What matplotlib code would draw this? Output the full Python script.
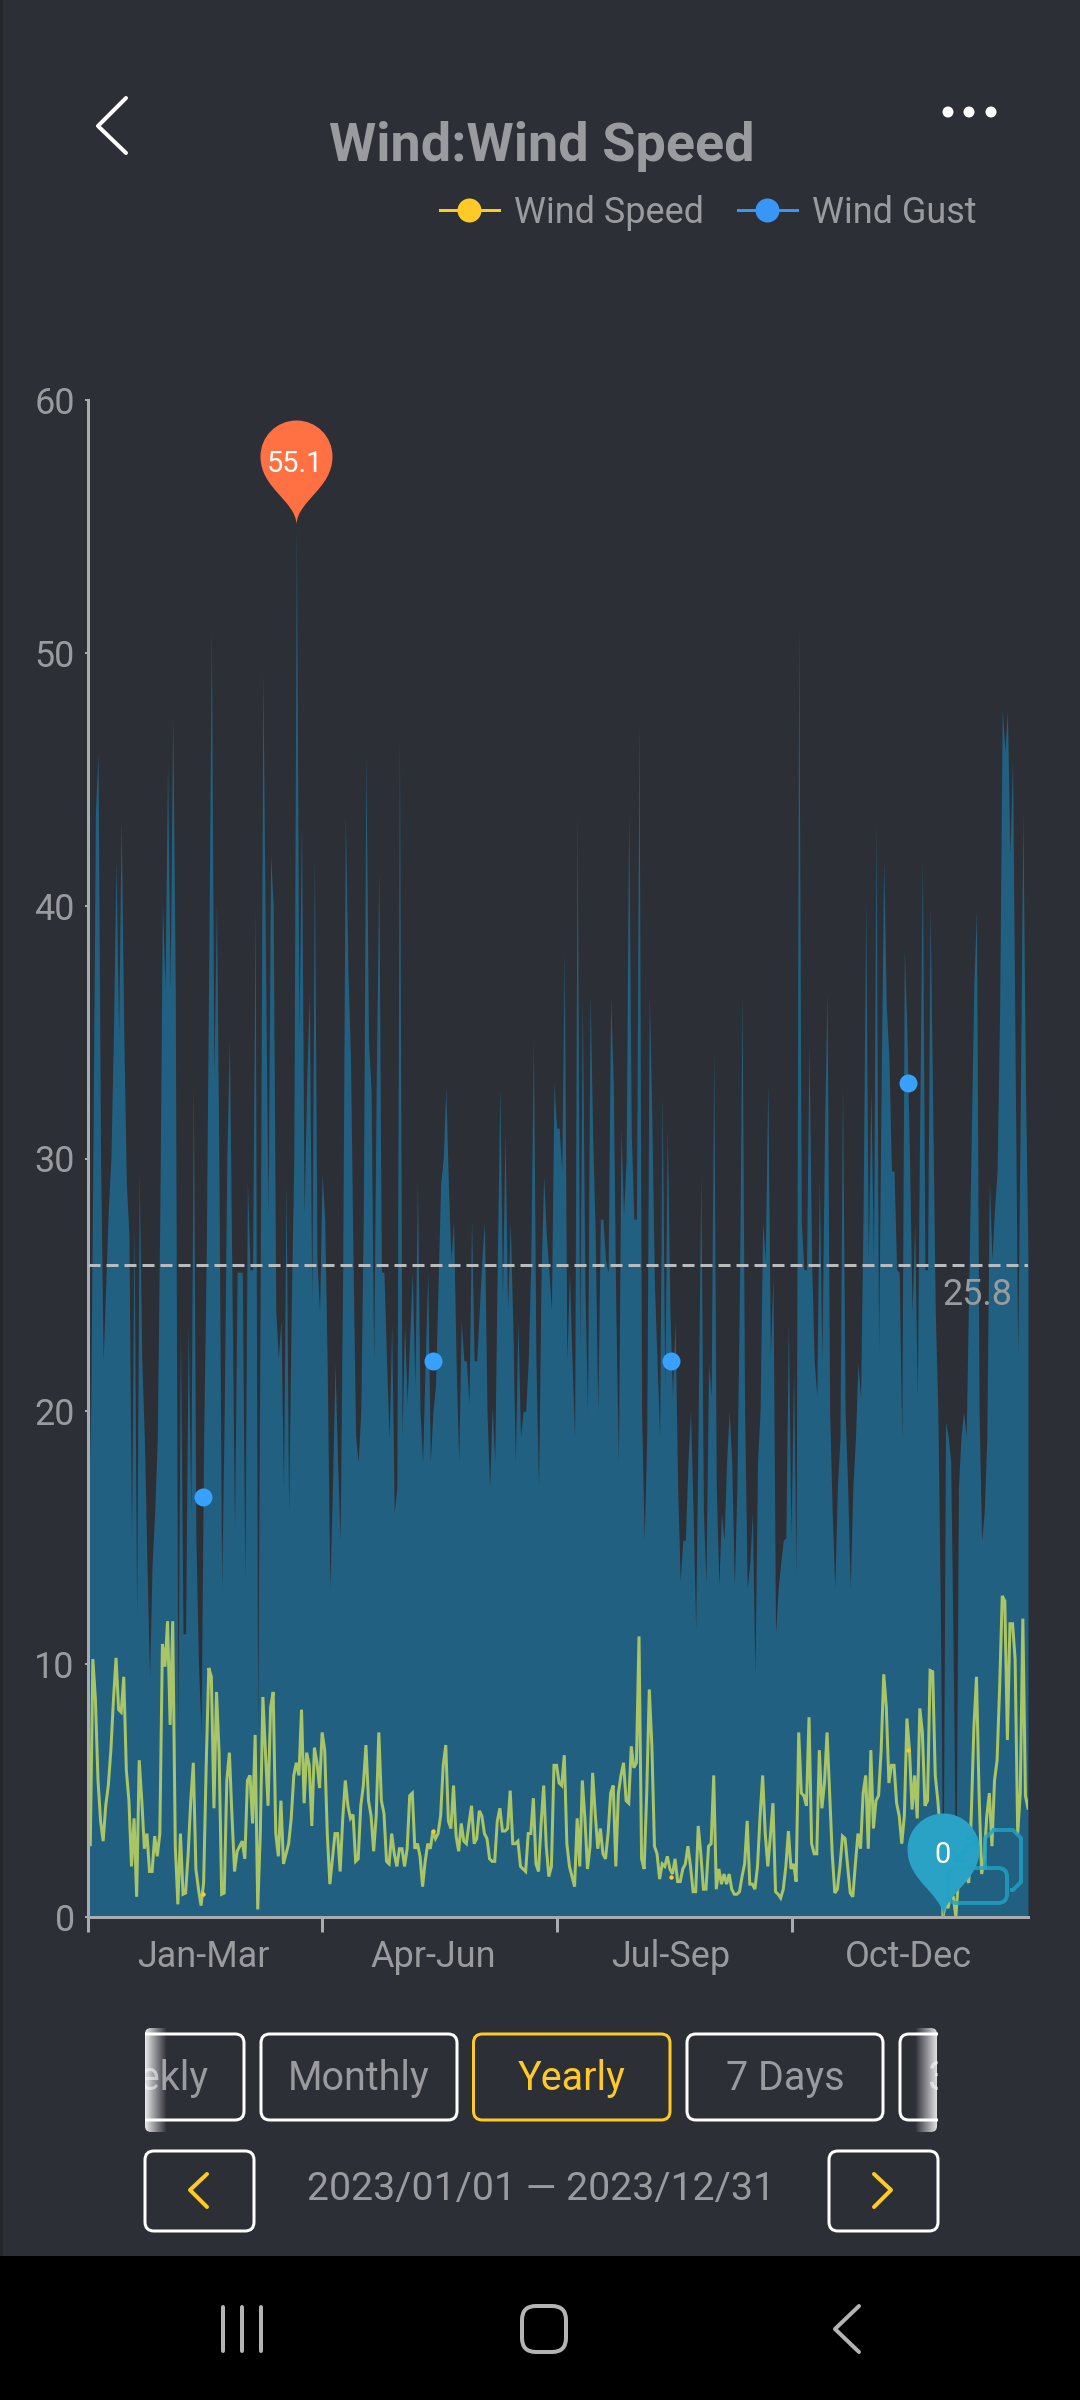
import numpy as np
import matplotlib
matplotlib.use("Agg")
import matplotlib.pyplot as plt
from matplotlib.lines import Line2D
from matplotlib.patches import FancyBboxPatch, Circle, Rectangle
from matplotlib.path import Path

plt.rcParams['font.family'] = ['Roboto', 'DejaVu Sans']
plt.rcParams['lines.scale_dashes'] = False

# ---------- data ----------
wind_gust = [
    29.2,18,30,43.7,46,30,22,25,28,30,
    35,41.8,34.9,43.4,35,29,27,15,27.5,11.9,
    29.4,22,18.9,14,9.5,14,16,18.9,27.9,40.2,
    36.7,45.6,36.7,47.6,36.7,7.3,23.4,11.2,11.2,23.4,
    16,33,15,10,7.3,18.9,26,38,50.9,33.2,
    40.2,28.7,13,20,30,34.7,25,15.3,25.5,25.5,
    25.5,13.3,29.1,25.6,25.6,40,7.3,25.8,49.3,38,
    27.8,42,40,24,22.1,23.6,17,29.1,16,24,
    30,55.1,34.9,43.4,27.8,33,36.5,24.3,42,26,
    23.9,29.4,27.6,21.5,13,17,21.9,18,14.9,26,
    43.6,37.5,34,26,19,18,20,28,46,34.6,
    32.7,22,33,41.4,25.5,25.5,22,18.9,23.5,16,
    17,46.8,19,23.5,20.3,23,25.5,21,29.1,20,
    18,22,25.5,18,20,21,25,29,30,32.8,
    29,26,27.5,22,18,23.6,22,22,20.3,27.6,
    22,22,24,26,27.5,20,17,20.2,18,26,
    32.8,24.5,31,24,27.5,23.5,18,23.6,19,20,
    20,22,26,34.7,22,17,25.5,29.3,27,25.6,
    24,33,31.2,31.2,29.5,38.2,22,25.5,22,19,
    43.7,22.5,36.3,25,20,36.5,31,27,20,27.6,
    27.6,26,25.5,36.4,33,24,18,31.2,27.8,30,
    43.7,31,27.6,27.6,47.4,20,14.9,19,36.5,31.5,
    25,22,19,32.6,21,31.2,24,20.6,23.6,17,
    13.3,14.9,14.9,18,20,16,11.4,20,29.4,16,
    13.2,21.9,20.6,34.3,17,13.1,16,14.9,18,20,
    18,13.1,17,25,36.5,20,13,14,16,9.6,
    18,20,27.5,26,33,22.2,25.4,11.2,13,14,
    14.9,15,23.5,15,21.7,13.5,51.2,27.5,25.6,25.6,
    34.5,26,22,20.6,29.2,22,31,36.6,20,16,
    13,17,18.9,33,20,17,13,17,18.9,21.9,
    20.5,28,40.2,26,32.7,26,43.3,22.4,33,41.8,
    36,34,29.5,29.5,25.6,25.5,18.9,38.3,35,30,
    23.9,27.5,20.6,32,41.8,25.6,25.6,40,32,24,
    20,12,0,19.6,19,18,10,0.5,17,19,
    20,19,25,31,37,39.8,20,14.9,16,18.9,
    29.2,26,28,29.5,36,47.8,46.1,47.7,42,45.8,
    34,22.2,32,43.7,33,26,
]
wind_speed = [
    5.7,2.8,10.2,8.6,5.4,3.8,3.0,4.4,5.2,6.6,
    8.6,10.25,8.2,8.1,9.5,5.8,4.6,2.0,3.9,0.8,
    6.2,4.6,2.7,3.3,1.8,1.8,3.2,2.4,3.3,10.8,
    9.9,11.7,7.6,11.7,2.8,0.5,3.3,0.9,0.95,2.5,
    4.6,6.1,1.9,1.1,0.45,1.35,6.0,9.85,9.5,4.3,
    8.9,6.5,0.9,0.95,5.4,6.5,4.0,1.8,2.6,2.8,
    3.0,2.3,5.4,5.6,3.7,7.2,0.3,3.3,8.7,6.5,
    4.4,8.3,8.9,3.3,2.4,4.6,2.1,2.5,2.9,3.9,
    5.6,6.1,5.6,8.2,4.5,6.5,6.0,3.6,6.7,6.1,
    5.1,7.3,6.6,3.3,1.3,2.3,3.3,3.3,1.8,3.9,
    5.4,4.4,3.9,4.05,2.2,2.3,4.4,5.2,6.8,4.6,
    4.0,2.6,4.0,7.3,4.6,4.1,2.2,2.1,3.3,2.5,
    2.0,2.7,2.7,2.0,2.7,4.8,4.9,2.7,2.9,2.4,
    1.2,2.2,2.9,2.7,3.4,3.1,3.3,4.0,6.0,6.8,
    3.8,3.5,5.2,3.2,2.6,3.7,3.0,2.9,3.7,4.4,
    2.9,3.1,4.2,4.0,3.3,3.1,2.3,2.2,2.2,3.8,
    4.3,3.4,3.4,3.5,5.0,2.9,2.9,3.0,2.0,1.9,
    1.8,3.3,3.3,4.7,2.1,1.8,3.7,5.2,2.8,1.6,
    2.0,6.0,6.0,5.3,5.2,6.4,2.9,2.0,1.6,1.2,
    3.9,2.0,5.4,3.9,1.9,2.8,5.7,4.1,2.7,3.5,
    2.5,2.3,3.3,4.9,5.2,2.0,4.9,5.6,6.1,4.6,
    4.5,6.75,5.9,6.1,11.1,2.3,1.9,4.9,9.0,6.75,
    2.8,2.5,1.5,2.1,2.0,2.4,1.9,1.7,2.3,1.4,
    1.4,1.9,2.1,2.8,2.0,1.0,1.0,3.6,2.5,1.1,
    1.1,2.8,2.9,5.6,1.1,1.9,1.3,1.7,1.3,1.7,
    1.1,0.9,0.9,1.0,1.6,2.1,3.8,1.3,1.3,1.1,
    2.0,4.0,5.6,3.3,2.0,3.2,4.5,1.0,0.9,0.75,
    1.1,2.0,3.4,1.9,2.1,1.4,7.3,4.9,4.8,4.4,
    7.9,2.9,2.5,2.5,6.6,4.3,5.3,7.3,4.9,2.5,
    0.95,1.1,2.0,3.2,3.1,2.0,0.95,0.8,2.1,3.3,
    2.7,4.9,5.6,2.7,6.6,3.5,4.6,4.8,6.6,9.6,
    8.3,5.3,6.0,6.0,4.5,4.0,2.9,4.0,7.85,6.6,
    4.25,5.6,3.9,8.25,7.3,4.4,4.6,9.75,9.7,5.6,
    4.6,3.3,0,0.55,0.35,0.95,0.8,0,1.5,3.0,
    2.0,1.6,1.35,4.1,7.5,9.5,4.9,1.7,2.3,4.0,
    4.9,2.8,5.4,6.2,9.1,12.7,12.5,7.0,11.6,11.6,
    10.2,3.3,4.9,11.8,4.8,4.3,
]
quarter_labels = ['Jan-Mar', 'Apr-Jun', 'Jul-Sep', 'Oct-Dec']
quarter_centers = [44.8, 134, 226.4, 318.5]
quarter_edges = [0, 91, 182, 273.5]
gust_points = [16.6, 22, 22, 33]
speed_points = [0.9, 3.4, 1.6, 6.6]
y_ticks = [0, 10, 20, 30, 40, 50, 60]
average_value = 25.8
max_day, max_value = 81, 55.1
min_day, min_value = 332, 0
range_buttons = ['Weekly', 'Monthly', 'Yearly', '7 Days', '30 Days']
series_names = ['Wind Speed', 'Wind Gust']

# ---------- colours ----------
BG = '#2c2f36'
FILL = '#216080'
LINE = '#a9c566'
TXT = '#9a9b9f'
AX = '#a9abad'
YEL = '#ffca28'
BLU = '#38a0ff'
W, H = 1080, 2400

fig = plt.figure(figsize=(W/100, H/100), dpi=100, facecolor=BG)
PX = 72/100  # points per pixel

# ---------- chart ----------
L, R, T, B = 87.7, 1028, 400, 1917
ax = fig.add_axes([L/W, 1-B/H, (R-L)/W, (B-T)/H], facecolor='none')
days = np.arange(len(wind_gust))
ax.fill_between(days, wind_gust, 0, color=FILL, lw=0, zorder=1)
ax.plot(np.arange(len(wind_speed)), wind_speed, color=LINE, lw=3*PX, zorder=2,
        solid_joinstyle='miter')
ax.plot(quarter_centers, speed_points, 'o', color=YEL, ms=3*PX, zorder=2, clip_on=False)
ax.plot(quarter_centers, gust_points, 'o', color=BLU, ms=18*PX, mew=0, zorder=3)
ax.axhline(average_value, color='#b9bbbd', lw=3*PX, linestyle=(0, (12*PX, 6*PX)), zorder=3)
ax.annotate(f'{average_value}', (365, average_value), xytext=(-16*PX, -30*PX),
            textcoords='offset points', ha='right', va='center', color=TXT, fontsize=36*PX)
ax.set_xlim(0, 365)
ax.set_ylim(0, 60)
for s in ('top', 'right'):
    ax.spines[s].set_visible(False)
for s in ('left', 'bottom'):
    ax.spines[s].set_color(AX)
    ax.spines[s].set_linewidth(3*PX)
ax.set_yticks(y_ticks)
ax.tick_params(axis='y', length=3*PX, width=2*PX, color=AX, labelcolor=TXT,
               labelsize=36*PX, pad=10*PX)
ax.set_xticks(quarter_edges)
ax.set_xticklabels([])
ax.tick_params(axis='x', which='major', length=15*PX, width=3*PX, color=AX)
ax.set_xticks(quarter_centers, minor=True)
ax.set_xticklabels(quarter_labels, minor=True)
ax.tick_params(axis='x', which='minor', length=0, labelcolor=TXT, labelsize=36*PX, pad=22*PX)

# map pins (tip sits on the value)
pin_verts = [(0, 0), (-1, 24), (-36, 36), (-36, 68),
             (-36, 88), (-20, 104), (0, 104),
             (20, 104), (36, 88), (36, 68),
             (36, 36), (1, 24), (0, 0), (0, 0)]
pin_codes = [Path.MOVETO] + [Path.CURVE4]*12 + [Path.CLOSEPOLY]
pin = Path(pin_verts, pin_codes)
pin_ms = 2*104*PX
ax.plot([max_day], [max_value], marker=pin, ms=pin_ms, color='#ff7043', mew=0,
        zorder=5, clip_on=False, ls='none')
ax.plot([min_day], [min_value], marker=pin, ms=pin_ms, color='#2aa2c6', mew=0,
        zorder=5, clip_on=False, ls='none')
ax.annotate(f'{max_value}', (max_day, max_value), xytext=(-1*PX, 60*PX),
            textcoords='offset points', ha='center', va='center', color='white',
            fontsize=29*PX, zorder=6)
ax.annotate(f'{min_value}', (min_day, min_value), xytext=(0, 62*PX),
            textcoords='offset points', ha='center', va='center', color='white',
            fontsize=29*PX, zorder=6)

# ---------- app chrome, in pixel coordinates ----------
ui = fig.add_axes([0, 0, 1, 1], facecolor='none', zorder=5)
ui.set_xlim(0, W)
ui.set_ylim(H, 0)
ui.axis('off')

def stroke(xs, ys, c='white', lw=4, **kw):
    ui.plot(xs, ys, color=c, lw=lw*PX, solid_capstyle='round', solid_joinstyle='round', **kw)

def box(x0, y0, x1, y1, ec='white', lw=3, r=9, fc='none', z=2, **kw):
    p = FancyBboxPatch((x0+r, y0+r), x1-x0-2*r, y1-y0-2*r,
                       boxstyle=f'round,pad={r},rounding_size={r}', ec=ec, fc=fc,
                       lw=lw*PX, zorder=z, **kw)
    ui.add_patch(p)
    return p

# thin darker edge at the left, black bar at the bottom
ui.add_patch(Rectangle((0, 0), 2.5, 2256, color='#24272c', lw=0))
ui.fill_between([0, W], 2256, H, color='black', lw=0)

# header
stroke([126, 98, 126], [98, 126, 153])
for cx in (948, 969, 991):
    ui.add_patch(Circle((cx, 112), 5.5, color='white', lw=0))
ui.text(541.5, 147, 'Wind:Wind Speed', color=TXT, fontsize=54*PX, fontweight='bold',
        ha='center', va='center')

# legend
handles = [Line2D([], [], color=YEL, lw=3*PX, marker='o', ms=24*PX, mew=0),
           Line2D([], [], color='#3a96f5', lw=3*PX, marker='o', ms=24*PX, mew=0)]
fig.legend(handles, series_names, loc='center right', bbox_to_anchor=(977/W, 1-213/H),
           frameon=False, ncol=2, fontsize=36*PX, labelcolor=TXT, borderpad=0,
           borderaxespad=0, handlelength=59/36, handletextpad=16/36, columnspacing=33/36)

# floating assistive icon over the chart
ICON = '#22a3c4'
box(948, 1868, 1007, 1903, ec=ICON, lw=4, r=9, alpha=0.8, z=7)
ui.plot([985, 985, 994], [1868, 1838, 1830], color=ICON, lw=4*PX, alpha=0.8, zorder=7)
ui.plot([994, 1013, 1021, 1021, 1013, 1012], [1830, 1830, 1838, 1882, 1890, 1890],
        color=ICON, lw=4*PX, alpha=0.8, zorder=7)
ui.plot([955, 976], [1860, 1840], color=ICON, lw=4*PX, alpha=0.9, zorder=7)
ui.plot([968, 976, 977], [1838, 1838, 1846], color=ICON, lw=4*PX, alpha=0.9, zorder=7)
ui.plot([954, 955, 963], [1853, 1861, 1861], color=ICON, lw=4*PX, alpha=0.9, zorder=7)

# range buttons, clipped to the scrolling strip
btn_y0, btn_y1 = 2034, 2120
buttons = [(48, 244), (261, 457), (473.5, 670), (687, 883), (900, 1096)]
clip = Rectangle((145, 2000), 793, 160, transform=ui.transData)
for (x0, x1), name in zip(buttons, range_buttons):
    sel = name == 'Yearly'
    col = YEL if sel else 'white'
    p = box(x0, btn_y0, x1, btn_y1, ec=col)
    p.set_clip_path(clip)
    t = ui.text((x0+x1)/2, 2079, name, color=YEL if sel else TXT, fontsize=39.5*PX,
                ha='center', va='center', clip_on=True)
    t.set_clip_path(clip)

# fades at both ends of the strip
gr = np.ones((2, 64, 4))
gr[..., 3] = np.linspace(0.9, 0, 64)
for (x0, x1, img) in ((145, 167, gr), (915, 938, gr[:, ::-1])):
    im = ui.imshow(img, extent=(x0, x1, 2132, 2028), aspect='auto', zorder=4,
                   interpolation='bilinear')
    p = FancyBboxPatch((x0-30 if x0 > 500 else x0+6, 2034), 46, 92,
                       boxstyle='round,pad=6,rounding_size=6', transform=ui.transData)
    im.set_clip_path(p)
ui.set_xlim(0, W)
ui.set_ylim(H, 0)

# date row
box(145, 2151, 254, 2231)
box(829, 2151, 938, 2231)
stroke([207, 190, 207], [2174, 2190, 2207], c=YEL)
stroke([874, 891, 874], [2174, 2190, 2207], c=YEL)
ui.text(541, 2190, '2023/01/01 \u2014 2023/12/31', color=TXT, fontsize=39.2*PX,
        ha='center', va='center')

# system navigation
NAV = '#b4b4b4'
for x in (223, 242, 261):
    stroke([x, x], [2307, 2351], c=NAV)
box(522, 2306, 566, 2352, ec=NAV, lw=4, r=14)
stroke([859, 835, 859], [2306, 2329, 2352], c=NAV)

fig.savefig('out.png', dpi=100, facecolor=fig.get_facecolor())
